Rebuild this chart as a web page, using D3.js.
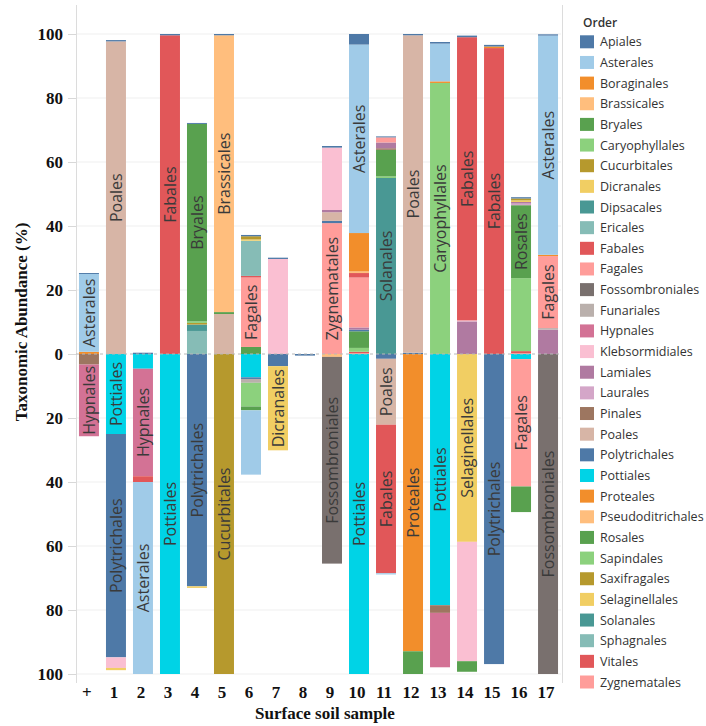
<!DOCTYPE html>
<html>
<head>
<meta charset="utf-8">
<script src="https://cdn.jsdelivr.net/npm/d3@7"></script>
<style>
  body { margin: 0; background: #ffffff; }
  svg { display: block; }
</style>
</head>
<body>
<svg id="chart" width="706" height="726"></svg>
<script>
// ---- samples and taxonomic orders ----
const samples = ["+", "1", "2", "3", "4", "5", "6", "7", "8", "9", "10", "11", "12", "13", "14", "15", "16", "17"];

const orders = [
  "Apiales", "Asterales", "Boraginales", "Brassicales", "Bryales", "Caryophyllales",
  "Cucurbitales", "Dicranales", "Dipsacales", "Ericales", "Fabales", "Fagales",
  "Fossombroniales", "Funariales", "Hypnales", "Klebsormidiales", "Lamiales", "Laurales",
  "Pinales", "Poales", "Polytrichales", "Pottiales", "Proteales", "Pseudoditrichales",
  "Rosales", "Sapindales", "Saxifragales", "Selaginellales", "Solanales", "Sphagnales",
  "Vitales", "Zygnematales"
];

const orderColors = [
  "#4e79a7", "#a0cbe8", "#f28e2b", "#ffbe7d", "#59a14f", "#8cd17d",
  "#b6992d", "#f1ce63", "#499894", "#86bcb6", "#e15759", "#ff9d9a",
  "#79706e", "#bab0ac", "#d37295", "#fabfd2", "#b07aa1", "#d4a6c8",
  "#9d7660", "#d7b5a6", "#4e79a7", "#00d3e6", "#f28e2b", "#ffbe7d",
  "#59a14f", "#8cd17d", "#b6992d", "#f1ce63", "#499894", "#86bcb6",
  "#e15759", "#ff9d9a"
];

const yTicks = [-100, -80, -60, -40, -20, 0, 20, 40, 60, 80, 100];

// ---- abundance (%) stacked above the zero line ----
const upper_plus = [["Apiales", 0.3], ["Asterales", 24.3], ["Boraginales", 0.7]];
const upper_1  = [["Apiales", 0.4], ["Poales", 97.7]];
const upper_2  = [["Polytrichales", 0.4]];
const upper_3  = [["Apiales", 0.4], ["Fabales", 99.6]];
const upper_4  = [["Apiales", 0.3], ["Bryales", 61.7], ["Caryophyllales", 0.5], ["Cucurbitales", 0.5], ["Dipsacales", 2.0], ["Ericales", 7.2]];
const upper_5  = [["Apiales", 0.4], ["Brassicales", 86.5], ["Bryales", 0.6], ["Poales", 12.5]];
const upper_6  = [["Apiales", 0.4], ["Cucurbitales", 1.0], ["Dicranales", 0.4], ["Ericales", 11.0], ["Fabales", 0.5], ["Fagales", 21.7], ["Rosales", 2.2]];
const upper_7  = [["Apiales", 0.4], ["Klebsormidiales", 29.7]];
const upper_8  = [];
const upper_9  = [["Apiales", 0.5], ["Klebsormidiales", 19.5], ["Lamiales", 0.7], ["Poales", 2.7], ["Polytrichales", 0.7], ["Zygnematales", 40.9]];
const upper_10 = [["Apiales", 3.3], ["Asterales", 58.9], ["Boraginales", 12.0], ["Brassicales", 0.5], ["Fabales", 1.4], ["Fagales", 15.6], ["Lamiales", 0.7], ["Polytrichales", 0.5], ["Rosales", 5.2], ["Sapindales", 1.2], ["Vitales", 0.4], ["Zygnematales", 0.3]];
const upper_11 = [["Apiales", 0.3], ["Fagales", 1.6], ["Lamiales", 1.8], ["Pinales", 0.5], ["Rosales", 8.3], ["Sapindales", 0.5], ["Solanales", 55.0]];
const upper_12 = [["Apiales", 0.4], ["Poales", 99.2], ["Polytrichales", 0.4]];
const upper_13 = [["Apiales", 0.5], ["Asterales", 11.8], ["Boraginales", 0.5], ["Caryophyllales", 84.7]];
const upper_14 = [["Apiales", 0.5], ["Fabales", 88.5], ["Klebsormidiales", 0.3], ["Lamiales", 10.2]];
const upper_15 = [["Apiales", 0.5], ["Boraginales", 0.5], ["Fabales", 95.6]];
const upper_16 = [["Apiales", 0.4], ["Cucurbitales", 0.6], ["Dicranales", 0.5], ["Lamiales", 0.5], ["Laurales", 0.5], ["Rosales", 22.8], ["Sapindales", 22.8], ["Vitales", 0.6], ["Zygnematales", 0.3]];
const upper_17 = [["Apiales", 0.4], ["Asterales", 68.5], ["Boraginales", 0.4], ["Fagales", 22.5], ["Funariales", 0.5], ["Lamiales", 7.6]];

// ---- abundance (%) stacked below the zero line ----
const lower_plus = [["Pinales", 3.3], ["Hypnales", 22.4]];
const lower_1  = [["Pottiales", 25.0], ["Polytrichales", 69.8], ["Klebsormidiales", 3.3], ["Dicranales", 0.7]];
const lower_2  = [["Pottiales", 4.6], ["Hypnales", 33.6], ["Fabales", 1.8], ["Asterales", 60.0]];
const lower_3  = [["Pottiales", 100]];
const lower_4  = [["Polytrichales", 72.6], ["Dicranales", 0.5]];
const lower_5  = [["Cucurbitales", 100]];
const lower_6  = [["Pottiales", 7.3], ["Polytrichales", 0.5], ["Funariales", 1.2], ["Caryophyllales", 7.4], ["Bryales", 1.2], ["Asterales", 20.1]];
const lower_7  = [["Polytrichales", 3.8], ["Dicranales", 26.3]];
const lower_8  = [["Polytrichales", 0.5]];
const lower_9  = [["Pseudoditrichales", 0.9], ["Fossombroniales", 64.6]];
const lower_10 = [["Pottiales", 100]];
const lower_11 = [["Polytrichales", 1.5], ["Poales", 20.6], ["Fabales", 46.4], ["Asterales", 0.4]];
const lower_12 = [["Proteales", 92.9], ["Bryales", 7.1]];
const lower_13 = [["Pottiales", 78.5], ["Pinales", 2.4], ["Hypnales", 17.0]];
const lower_14 = [["Selaginellales", 58.7], ["Klebsormidiales", 37.3], ["Bryales", 3.3]];
const lower_15 = [["Polytrichales", 96.9]];
const lower_16 = [["Pottiales", 1.6], ["Fagales", 39.8], ["Bryales", 8.0]];
const lower_17 = [["Fossombroniales", 100]];

const upperSets = [upper_plus, upper_1, upper_2, upper_3, upper_4, upper_5, upper_6, upper_7, upper_8,
  upper_9, upper_10, upper_11, upper_12, upper_13, upper_14, upper_15, upper_16, upper_17];
const lowerSets = [lower_plus, lower_1, lower_2, lower_3, lower_4, lower_5, lower_6, lower_7, lower_8,
  lower_9, lower_10, lower_11, lower_12, lower_13, lower_14, lower_15, lower_16, lower_17];

// segments whose name is left off
const unlabelled = [["14", "Klebsormidiales"]];

// ---- layout ----
const svg = d3.select("#chart");
const plot = { left: 76, right: 561, top: 5, bottom: 683 };
const serif = "'Liberation Serif', 'Times New Roman', serif";
const sans = "'Open Sans', 'Noto Sans', sans-serif";

const x = d3.scaleBand().domain(samples).range([plot.left, plot.right])
  .paddingInner(0.26).paddingOuter(0.11);
const y = d3.scaleLinear().domain([-100, 100]).range([674, 34]);
const color = d3.scaleOrdinal().domain(orders).range(orderColors);

// wide table: one row per sample, one column per order
function toRow(pairs, i) {
  const row = { sample: samples[i] };
  orders.forEach(o => row[o] = 0);
  pairs.forEach(([o, v]) => row[o] = v);
  return row;
}
const upperRows = upperSets.map(toRow);
const lowerRows = lowerSets.map(toRow);

// alphabetically first order sits farthest from the zero line
const stack = d3.stack().keys(orders.slice().reverse());
const upperSeries = stack(upperRows);
const lowerSeries = stack(lowerRows);

// ---- grid ----
svg.append("g").selectAll("line").data(yTicks.filter(t => t !== 0)).join("line")
  .attr("x1", plot.left).attr("x2", plot.right)
  .attr("y1", d => y(d)).attr("y2", d => y(d))
  .attr("stroke", "#efefef").attr("stroke-width", 1);

// frame lines
svg.append("line").attr("x1", plot.left + 0.5).attr("x2", plot.left + 0.5)
  .attr("y1", plot.top).attr("y2", plot.bottom).attr("stroke", "#dcdcdc");
svg.append("line").attr("x1", plot.right + 1.5).attr("x2", plot.right + 1.5)
  .attr("y1", plot.top).attr("y2", plot.bottom).attr("stroke", "#dcdcdc");

// ---- bars ----
const segments = [];
function drawStack(series, sign, cls) {
  const g = svg.append("g").attr("class", cls);
  series.forEach(s => {
    s.forEach((d, i) => {
      const v = d[1] - d[0];
      if (v <= 0) return;
      const a = y(sign * d[0]), b = y(sign * d[1]);
      const seg = {
        order: s.key, sample: samples[i], value: v,
        x: x(samples[i]), y0: Math.min(a, b), y1: Math.max(a, b)
      };
      segments.push(seg);
      g.append("rect")
        .attr("x", seg.x).attr("width", x.bandwidth())
        .attr("y", seg.y0).attr("height", seg.y1 - seg.y0)
        .attr("fill", color(s.key));
    });
  });
}
drawStack(upperSeries, 1, "upper");
drawStack(lowerSeries, -1, "lower");

// zero line
svg.append("line").attr("x1", plot.left).attr("x2", plot.right)
  .attr("y1", y(0)).attr("y2", y(0))
  .attr("stroke", "#b8b8b8").attr("stroke-width", 1).attr("stroke-dasharray", "3,3");

// ---- segment labels (only where the name fits inside the segment) ----
const labelG = svg.append("g").attr("class", "labels");
segments.forEach(seg => {
  if (unlabelled.some(([s, o]) => s === seg.sample && o === seg.order)) return;
  const h = seg.y1 - seg.y0;
  const cx = seg.x + x.bandwidth() / 2, cy = (seg.y0 + seg.y1) / 2;
  const t = labelG.append("text")
    .attr("transform", `translate(${cx},${cy}) rotate(-90)`)
    .attr("text-anchor", "middle").attr("dominant-baseline", "central")
    .attr("font-family", sans).attr("font-size", 16)
    .attr("fill", "#3a3a3a")
    .text(seg.order);
  if (t.node().getComputedTextLength() > h + 1) t.remove();
});

// ---- y axis ----
const yAxis = svg.append("g").attr("transform", `translate(${plot.left},0)`)
  .call(d3.axisLeft(y).tickValues(yTicks).tickFormat(d => Math.abs(d)).tickSize(8).tickPadding(5));
yAxis.select(".domain").remove();
yAxis.selectAll(".tick line").attr("stroke", "#d8d8d8");
yAxis.selectAll(".tick text")
  .attr("font-family", serif).attr("font-weight", "bold").attr("font-size", 17).attr("fill", "#111");

// ---- x axis ----
const xAxis = svg.append("g").attr("transform", `translate(-2,${plot.bottom})`)
  .call(d3.axisBottom(x).tickSize(0).tickPadding(3));
xAxis.select(".domain").remove();
xAxis.selectAll(".tick text")
  .attr("font-family", serif).attr("font-weight", "bold").attr("font-size", 17).attr("fill", "#111");

// axis titles
svg.append("text")
  .attr("transform", "translate(27,322) rotate(-90)")
  .attr("text-anchor", "middle")
  .attr("font-family", serif).attr("font-weight", "bold").attr("font-size", 17).attr("fill", "#111")
  .text("Taxonomic Abundance (%)");
svg.append("text")
  .attr("x", 325).attr("y", 719)
  .attr("text-anchor", "middle")
  .attr("font-family", serif).attr("font-weight", "bold").attr("font-size", 17).attr("fill", "#111")
  .text("Surface soil sample");

// ---- legend ----
const legend = svg.append("g").attr("transform", "translate(580,0)");
legend.append("text").attr("x", 3).attr("y", 27)
  .attr("font-family", sans).attr("font-weight", 600).attr("font-size", 12).attr("fill", "#333")
  .text("Order");
const step = (682 - 41.8) / (orders.length - 1);
const item = legend.selectAll("g.item").data(orders).join("g")
  .attr("class", "item")
  .attr("transform", (d, i) => `translate(0,${41.8 + i * step})`);
item.append("rect").attr("x", 0).attr("y", -6.5).attr("width", 14).attr("height", 13)
  .attr("fill", d => color(d));
item.append("text").attr("x", 20).attr("y", 0).attr("dominant-baseline", "central")
  .attr("font-family", sans).attr("font-size", 12.5).attr("fill", "#333")
  .text(d => d);
</script>
</body>
</html>
